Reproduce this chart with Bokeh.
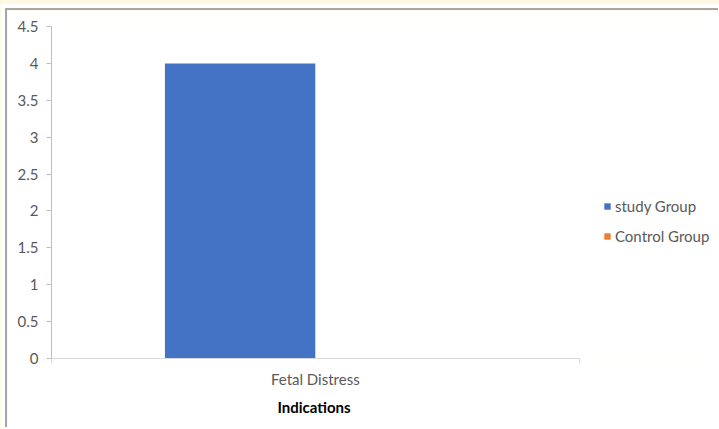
from bokeh.plotting import figure
from bokeh.models import (ColumnDataSource, Range1d, Legend, LegendItem,
                          FixedTicker, Title)
from bokeh.layouts import column
from bokeh.embed import file_html
from bokeh.resources import INLINE

# Chart data
categories = ["Fetal Distress"]
study_group = [4]
control_group = [0]
y_ticks = [0, 0.5, 1, 1.5, 2, 2.5, 3, 3.5, 4, 4.5]

FONT = "Lato"
FONT_SIZE = "15px"
TICK_COLOR = "#595959"
AXIS_GRAY = "#D9D9D9"

# each category occupies one unit on the x scale; the two series sit side by side
bar_w = 0.285
centers = [i + 0.5 for i in range(len(categories))]
src = ColumnDataSource(dict(
    cat=categories,
    x_study=[c - bar_w / 2 for c in centers],
    x_control=[c + bar_w / 2 for c in centers],
    study=study_group,
    control=control_group,
))

n_cat = len(categories)
# extra room on the right of the category area holds the legend
x_end = n_cat * 667 / 526

p = figure(
    x_range=Range1d(0, x_end),
    y_range=Range1d(0, 4.5),
    width=713, height=419,
    output_backend="svg", toolbar_location=None,
    min_border_left=44, min_border_top=16,
    min_border_bottom=71, min_border_right=0,
    border_fill_color="white", background_fill_color="white",
    outline_line_color=None,
)
p.margin = (8, 0, 0, 5)
p.styles = {"border-top": "2px solid #A6A6A6", "border-left": "2px solid #A6A6A6",
            "outline": "4px solid white"}

r_study = p.vbar(x="x_study", top="study", width=bar_w, source=src,
                 fill_color="#4472C4", line_color=None)
r_control = p.vbar(x="x_control", top="control", width=bar_w, source=src,
                   fill_color="#ED7D31", line_color=None)

p.xgrid.grid_line_color = None
p.ygrid.grid_line_color = None

# value axis
p.yaxis.ticker = FixedTicker(ticks=y_ticks)
p.yaxis.major_label_overrides = {t: (str(int(t)) if float(t).is_integer() else str(t)) for t in y_ticks}
p.yaxis.axis_line_color = "#BFBFBF"
p.yaxis.major_tick_line_color = "#BFBFBF"
p.yaxis.major_tick_out = 5
p.yaxis.major_tick_in = 0
p.yaxis.minor_tick_line_color = None
p.yaxis.major_label_text_font = FONT
p.yaxis.major_label_text_font_size = FONT_SIZE
p.yaxis.major_label_text_color = TICK_COLOR
p.yaxis.major_label_standoff = 8

# category axis: labels at category centres, short marks at category edges
p.xaxis.bounds = (0, n_cat)
p.xaxis.ticker = FixedTicker(ticks=centers, minor_ticks=list(range(n_cat + 1)))
p.xaxis.major_label_overrides = {c: name for c, name in zip(centers, categories)}
p.xaxis.axis_line_color = AXIS_GRAY
p.xaxis.major_tick_line_color = None
p.xaxis.minor_tick_line_color = AXIS_GRAY
p.xaxis.minor_tick_out = 5
p.xaxis.minor_tick_in = 0
p.xaxis.major_label_text_font = FONT
p.xaxis.major_label_text_font_size = FONT_SIZE
p.xaxis.major_label_text_color = TICK_COLOR
p.xaxis.major_label_standoff = 5

p.add_layout(Title(text="Indications", align="left", offset=226,
                   text_font=FONT, text_font_size=FONT_SIZE,
                   text_font_style="bold", text_color="black"), "below")

legend = Legend(
    items=[LegendItem(label="study Group", renderers=[r_study]),
           LegendItem(label="Control Group", renderers=[r_control])],
    location=(552, 113), orientation="vertical",
    border_line_color=None, background_fill_alpha=0,
    glyph_width=8, glyph_height=8, label_height=17, spacing=12,
    padding=0, margin=0,
    label_text_font=FONT, label_text_font_size=FONT_SIZE,
    label_text_color=TICK_COLOR, label_standoff=4,
)
p.add_layout(legend)

layout = column(p, width=719, height=429,
                styles={"background-color": "#FFF9E3"})

open("out.html", "w").write(file_html(layout, INLINE))
